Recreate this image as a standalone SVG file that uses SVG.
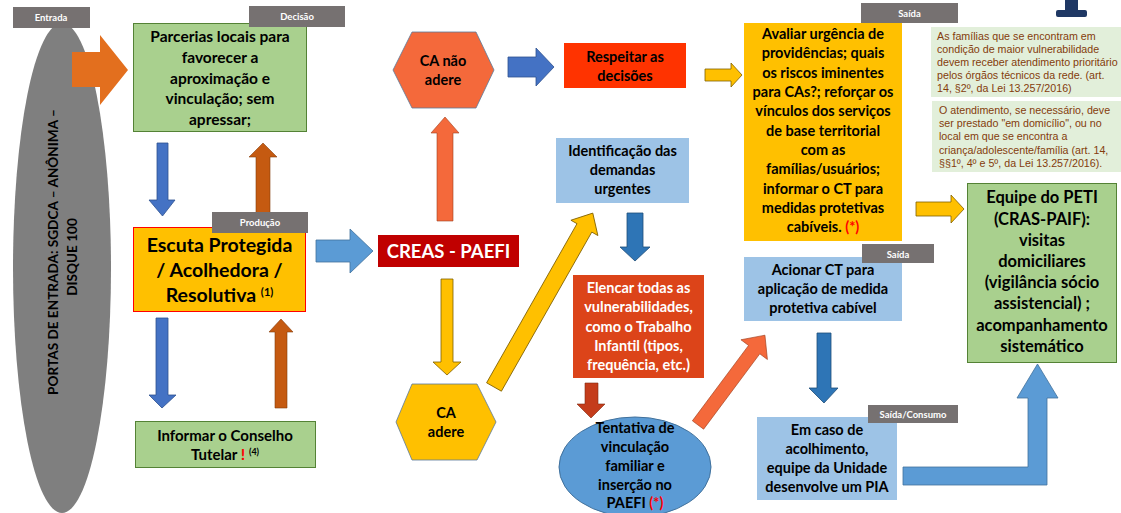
<svg xmlns="http://www.w3.org/2000/svg" width="1121" height="513" viewBox="0 0 1121 513">
<style>
.t{font-family:Lato,"Liberation Sans",sans-serif;font-weight:700;text-anchor:middle;fill:#000}
.w{fill:#fff}
.f15{font-size:15.5px}
.f14{font-size:14.5px}
.f13{font-size:15px}
.lb{fill:#767171}
.lt{font-family:Lato,"Liberation Sans",sans-serif;font-weight:700;font-size:9.5px;fill:#fff;text-anchor:middle}
.note{font-family:"Liberation Sans",Arial,sans-serif;font-size:10.7px;fill:#843C0C}
.red{fill:#FF0000}
.sup{font-size:10px}
.green{fill:#A9D08E;stroke:#548235;stroke-width:1}
.lblue{fill:#9DC3E6}
.ab{fill:#4472C4;stroke:#2F528F;stroke-width:0.8}
.alb{fill:#5B9BD5;stroke:#41719C;stroke-width:0.8}
.adb{fill:#2E75B6;stroke:#1F4E79;stroke-width:0.8}
.ay{fill:#FFC000;stroke:#7F6000;stroke-width:0.8}
.ao{fill:#C55A11;stroke:#843C0C;stroke-width:0.6}
.aor{fill:#F4693B;stroke:#A0401F;stroke-width:0.6}
</style>

<!-- Entrada -->
<g id="entrada">
  <ellipse cx="62" cy="268" rx="49" ry="245" fill="#7F7F7F"/>
  <text class="t" style="font-size:13.6px" transform="translate(58,252) rotate(-90)">PORTAS DE ENTRADA: SGDCA – ANÔNIMA –</text>
  <text class="t" style="font-size:13.6px" transform="translate(77,257) rotate(-90)">DISQUE 100</text>
  <rect class="lb" x="13" y="7" width="77" height="21"/>
  <text class="lt" x="51" y="21">Entrada</text>
</g>

<g id="mark">
  <path d="M1065,0 H1078 V10 H1085 Q1087,10 1087,12 V15 Q1087,17 1085,17 H1058 Q1056,17 1056,15 V12 Q1056,10 1058,10 H1065 Z" fill="#1F3864"/>
</g>

<g id="connectors">
  <polygon points="72,52 100,52 100,35 128,70 100,105 100,87 72,87" fill="#E36F1E"/>
  <polygon class="ab" points="157,143 168,143 168,200 175,200 162.5,216 149,200 157,200"/>
  <polygon class="ao" points="256,214 256,157 249,157 263,143 277,157 270,157 270,214"/>
  <polygon class="ab" points="156,318 168,318 168,395 176,395 162,408 149,395 156,395"/>
  <polygon class="ao" points="275,408 275,332 269,332 281,319 293,332 287,332 287,408"/>
  <polygon class="alb" points="316,240 350,240 350,229 373,251 350,273 350,262 316,262"/>
  <polygon class="aor" points="437,221 437,133 431,133 445,117 459,133 453,133 453,221"/>
  <polygon class="ab" points="508,57 536,57 536,48 554,67 536,86 536,77 508,77"/>
  <polygon class="ay" points="705,69 731,69 731,63 742,75 731,87 731,81 705,81"/>
  <polygon class="ay" points="441,279 453,279 453,362 461,362 447,375 433,362 441,362"/>
  <polygon class="ay" transform="translate(494,387) rotate(-60.4)" points="0,-8.5 183,-8.5 183,-15.5 200,0 183,15.5 183,8.5 0,8.5"/>
  <polygon class="adb" points="627,213 643,213 643,247 650,247 635,261 620,247 627,247"/>
  <polygon points="585,383 598,383 598,404 605,404 591,418 577,404 585,404" fill="#C43C1B" stroke="#7F2A12" stroke-width="0.6"/>
  <polygon class="aor" transform="translate(698,425) rotate(-53.3)" points="0,-7 94,-7 94,-16.5 112,0 94,16.5 94,7 0,7"/>
  <polygon class="adb" points="817,333 831,333 831,388 838,388 824,403 809,388 817,388"/>
  <polygon class="ay" points="916,202 951,202 951,195 964,209 951,223 951,216 916,216"/>
  <polygon class="alb" points="903,467 1028,467 1028,398 1017,398 1037.5,364 1058,398 1047,398 1047,485 903,485"/>
</g>

<g id="parcerias">
  <rect class="green" x="133.5" y="23.5" width="173" height="108"/>
  <text class="t f15" x="220" y="42">Parcerias locais para</text>
  <text class="t f15" x="220" y="63">favorecer a</text>
  <text class="t f15" x="220" y="84">aproximação e</text>
  <text class="t f15" x="220" y="104">vinculação; sem</text>
  <text class="t f15" x="220" y="125">apressar;</text>
  <rect class="lb" x="249" y="6" width="96" height="21"/>
  <text class="lt" x="297" y="20">Decisão</text>
</g>

<g id="escuta">
  <rect x="133.5" y="227.5" width="172" height="84" fill="#FFC000" stroke="#FF0000" stroke-width="1"/>
  <text class="t" style="font-size:19.5px" x="219.5" y="252">Escuta Protegida</text>
  <text class="t" style="font-size:19.5px" x="219.5" y="277">/ Acolhedora /</text>
  <text class="t" style="font-size:19.5px" x="219.5" y="302">Resolutiva <tspan class="sup" style="font-size:11px" dy="-6">(1)</tspan></text>
  <rect class="lb" x="212" y="212" width="96" height="21"/>
  <text class="lt" x="260" y="226">Produção</text>
</g>

<g id="informar">
  <rect class="green" x="135.5" y="421.5" width="180" height="46"/>
  <text class="t f13" x="225" y="441">Informar o Conselho</text>
  <text class="t f13" x="225" y="460">Tutelar <tspan class="red" style="font-size:16px">!</tspan> <tspan class="sup" style="font-size:9px" dy="-5">(4)</tspan></text>
</g>

<g id="creas">
  <rect x="378" y="235" width="141" height="32" fill="#C00000"/>
  <text class="t w" style="font-size:18.5px" x="448.5" y="258">CREAS - PAEFI</text>
</g>

<g id="ca-nao-adere">
  <polygon points="412,32 476,32 494,70 476,108 412,108 393,70" fill="#F4693B" stroke="#5A7A9A" stroke-width="0.8"/>
  <text class="t f14" x="443" y="66">CA não</text>
  <text class="t f14" x="443" y="85">adere</text>
</g>

<g id="respeitar">
  <rect x="564" y="43" width="122" height="45" fill="#FF3300"/>
  <text class="t f14" x="625" y="62">Respeitar as</text>
  <text class="t f14" x="625" y="81">decisões</text>
</g>

<g id="avaliar">
  <rect x="744" y="23" width="158" height="218" fill="#FFC000"/>
  <text class="t f14" x="823" y="39">Avaliar urgência de</text>
  <text class="t f14" x="823" y="58">providências; quais</text>
  <text class="t f14" x="823" y="78">os riscos iminentes</text>
  <text class="t f14" x="823" y="97">para CAs?; reforçar os</text>
  <text class="t f14" x="823" y="116">vínculos dos serviços</text>
  <text class="t f14" x="823" y="136">de base territorial</text>
  <text class="t f14" x="823" y="155">com as</text>
  <text class="t f14" x="823" y="174">famílias/usuários;</text>
  <text class="t f14" x="823" y="194">informar o CT para</text>
  <text class="t f14" x="823" y="213">medidas protetivas</text>
  <text class="t f14" x="823" y="232">cabíveis. <tspan class="red">(*)</tspan></text>
  <rect class="lb" x="861" y="3" width="97" height="20"/>
  <text class="lt" x="909.5" y="17">Saída</text>
</g>

<g id="nota1">
  <rect x="931" y="27" width="190" height="70" fill="#E2EFDA"/>
  <text class="note" x="937" y="40">As famílias que se encontram em</text>
  <text class="note" x="937" y="53">condição de maior vulnerabilidade</text>
  <text class="note" x="937" y="66">devem receber atendimento prioritário</text>
  <text class="note" x="937" y="79">pelos órgãos técnicos da rede. (art.</text>
  <text class="note" x="937" y="92">14, §2º, da Lei 13.257/2016)</text>
</g>

<g id="nota2">
  <rect x="932" y="101" width="189" height="71" fill="#E2EFDA"/>
  <text class="note" x="939" y="114">O atendimento, se necessário, deve</text>
  <text class="note" x="939" y="127">ser prestado "em domicílio", ou no</text>
  <text class="note" x="939" y="140">local em que se encontra a</text>
  <text class="note" x="939" y="154">criança/adolescente/família (art. 14,</text>
  <text class="note" x="939" y="167">§§1º, 4º e 5º, da Lei 13.257/2016).</text>
</g>

<g id="equipe">
  <rect class="green" x="967.5" y="183.5" width="149" height="179"/>
  <text class="t" style="font-size:16.5px" x="1042" y="203">Equipe do PETI</text>
  <text class="t" style="font-size:16.5px" x="1042" y="225">(CRAS-PAIF):</text>
  <text class="t" style="font-size:16.5px" x="1042" y="246">visitas</text>
  <text class="t" style="font-size:16.5px" x="1042" y="267">domiciliares</text>
  <text class="t" style="font-size:16.5px" x="1042" y="288">(vigilância sócio</text>
  <text class="t" style="font-size:16.5px" x="1042" y="309">assistencial) ;</text>
  <text class="t" style="font-size:16.5px" x="1042" y="331">acompanhamento</text>
  <text class="t" style="font-size:16.5px" x="1042" y="352">sistemático</text>
</g>

<g id="identificacao">
  <rect class="lblue" x="556" y="138" width="133" height="65"/>
  <text class="t f14" x="622.5" y="156">Identificação das</text>
  <text class="t f14" x="622.5" y="175">demandas</text>
  <text class="t f14" x="622.5" y="194">urgentes</text>
</g>

<g id="elencar">
  <rect x="573" y="275" width="131" height="103" fill="#DC4419"/>
  <text class="t w f14" x="638.5" y="293">Elencar todas as</text>
  <text class="t w f14" x="638.5" y="312">vulnerabilidades,</text>
  <text class="t w f14" x="638.5" y="332">como o Trabalho</text>
  <text class="t w f14" x="638.5" y="351">Infantil (tipos,</text>
  <text class="t w f14" x="638.5" y="370">frequência, etc.)</text>
</g>

<g id="ca-adere">
  <polygon points="412,384 477,384 496,422 477,460 412,460 396,422" fill="#FFC000" stroke="#5A7A9A" stroke-width="0.8"/>
  <text class="t f14" x="446" y="418">CA</text>
  <text class="t f14" x="446" y="437">adere</text>
</g>

<g id="tentativa">
  <ellipse cx="635" cy="467" rx="76" ry="50" fill="#5B9BD5" stroke="#41719C" stroke-width="1"/>
  <text class="t f14" x="635" y="433">Tentativa de</text>
  <text class="t f14" x="635" y="452">vinculação</text>
  <text class="t f14" x="635" y="471">familiar e</text>
  <text class="t f14" x="635" y="490">inserção no</text>
  <text class="t f14" x="635" y="508">PAEFI <tspan class="red">(*)</tspan></text>
</g>

<g id="acionar">
  <rect class="lblue" x="744" y="257" width="158" height="64"/>
  <text class="t f14" x="823" y="275">Acionar CT para</text>
  <text class="t f14" x="823" y="294">aplicação de medida</text>
  <text class="t f14" x="823" y="313">protetiva cabível</text>
  <rect class="lb" x="862" y="244" width="72" height="19"/>
  <text class="lt" x="898" y="257.5">Saída</text>
</g>

<g id="em-caso">
  <rect class="lblue" x="757" y="417" width="140" height="83"/>
  <text class="t f14" x="827" y="435">Em caso de</text>
  <text class="t f14" x="827" y="454">acolhimento,</text>
  <text class="t f14" x="827" y="473">equipe da Unidade</text>
  <text class="t f14" x="827" y="492">desenvolve um PIA</text>
  <rect class="lb" x="868" y="405" width="90" height="18"/>
  <text class="lt" x="913" y="418">Saída/Consumo</text>
</g>
</svg>
